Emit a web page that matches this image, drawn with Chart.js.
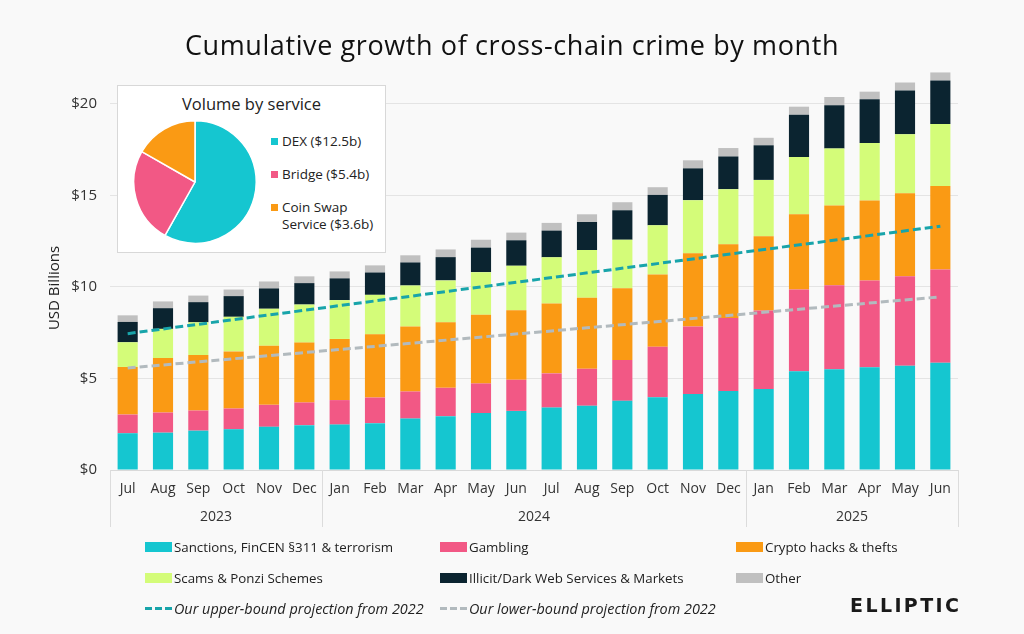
<!DOCTYPE html>
<html>
<head>
<meta charset="utf-8">
<title>Cumulative growth of cross-chain crime by month</title>
<script src="https://cdn.jsdelivr.net/npm/chart.js@4.4.1/dist/chart.umd.min.js"></script>
<style>
    body { margin: 0; background: #f9f9f9; font-family: 'Open Sans', sans-serif; color: #222; }
    #wrap { position: relative; width: 1024px; height: 634px; overflow: hidden; }
    #main { position: absolute; left: 0; top: 0; }
    #title { position: absolute; left: 0; width: 1024px; top: 27px; text-align: center; font-size: 27px;
             letter-spacing: 0.6px; color: #111; line-height: 36px; }
    #pieBox { position: absolute; left: 117px; top: 85px; width: 269px; height: 168px; background: #fff;
              border: 1px solid #d8d8d8; box-sizing: border-box; }
    #pieTitle { position: absolute; left: 0; width: 100%; top: 6px; text-align: center; font-size: 16.5px; color: #222; }
    #pie { position: absolute; left: 15px; top: 34px; }
    #pieLegend { position: absolute; left: 153px; top: 47px; font-size: 13.5px; color: #222; }
    #pieLegend .it { position: relative; padding-left: 11px; line-height: 17px; margin-bottom: 16px; }
    #pieLegend .sq { position: absolute; left: 0; top: 5px; width: 7px; height: 7px; }
    #legend { position: absolute; left: 145px; top: 531px; display: grid;
              grid-template-columns: 295px 296px 220px; grid-auto-rows: 31px; font-size: 13.3px; color: #222; }
    #legend .it { display: flex; align-items: center; white-space: nowrap; }
    #legend .sw { width: 27px; height: 10px; margin-right: 2px; flex: none; }
    #legend .dash { height: 3px; }
    #legend .it.proj { font-style: italic; font-size: 14.4px; }
    #logo { position: absolute; left: 850px; top: 594px; font-family: 'DejaVu Sans', sans-serif; font-weight: bold;
            font-size: 19px; letter-spacing: 2.4px; color: #1a1a1a; }
</style>
</head>
<body>
<div id="wrap">
    <canvas id="main" width="1024" height="634"></canvas>
    <div id="title"></div>
    <div id="pieBox">
        <div id="pieTitle"></div>
        <canvas id="pie" width="124" height="124"></canvas>
        <div id="pieLegend"></div>
    </div>
    <div id="legend"></div>
    <div id="logo">ELLIPTIC</div>
</div>
<script>
const chartTitle = 'Cumulative growth of cross-chain crime by month';
const yTitle = 'USD Billions';

const months = ['Jul', 'Aug', 'Sep', 'Oct', 'Nov', 'Dec',
    'Jan', 'Feb', 'Mar', 'Apr', 'May', 'Jun', 'Jul', 'Aug', 'Sep', 'Oct', 'Nov', 'Dec',
    'Jan', 'Feb', 'Mar', 'Apr', 'May', 'Jun'];
const yearLabels = ['2023', '2024', '2025'];
const yearStart = [0, 6, 18]; // index of first month of each year

const yTicks = [0, 5, 10, 15, 20];

const seriesNames = ['Sanctions, FinCEN §311 & terrorism', 'Gambling', 'Crypto hacks & thefts',
    'Scams & Ponzi Schemes', 'Illicit/Dark Web Services & Markets', 'Other'];

const sanctions = [2.01, 2.04, 2.15, 2.23, 2.36, 2.45, 2.48, 2.56, 2.81, 2.94, 3.11, 3.23,
    3.41, 3.51, 3.78, 3.98, 4.15, 4.31, 4.42, 5.39, 5.50, 5.61, 5.70, 5.86];
const gambling = [1.02, 1.10, 1.10, 1.13, 1.20, 1.24, 1.34, 1.40, 1.48, 1.55, 1.62, 1.70,
    1.87, 2.02, 2.23, 2.76, 3.69, 4.00, 4.29, 4.47, 4.60, 4.75, 4.89, 5.10];
const hacks = [2.60, 2.98, 3.03, 3.12, 3.23, 3.27, 3.34, 3.45, 3.55, 3.58, 3.75, 3.80,
    3.82, 3.88, 3.92, 3.94, 4.00, 4.02, 4.06, 4.11, 4.35, 4.36, 4.53, 4.56];
const scams = [1.35, 1.59, 1.79, 1.89, 2.02, 2.08, 2.12, 2.16, 2.24, 2.29, 2.33, 2.43,
    2.52, 2.61, 2.65, 2.69, 2.90, 3.01, 3.08, 3.13, 3.12, 3.14, 3.22, 3.38];
const darkWeb = [1.11, 1.13, 1.10, 1.13, 1.11, 1.17, 1.19, 1.22, 1.26, 1.27, 1.34, 1.39,
    1.46, 1.53, 1.61, 1.66, 1.74, 1.79, 1.89, 2.31, 2.36, 2.40, 2.39, 2.38];
const other = [0.36, 0.37, 0.36, 0.36, 0.38, 0.37, 0.38, 0.39, 0.39, 0.42, 0.43, 0.42,
    0.42, 0.42, 0.44, 0.42, 0.44, 0.46, 0.41, 0.44, 0.45, 0.41, 0.44, 0.44];

// projections are straight lines: only the two end values are read, the line spans the gap
const projNames = ['Our upper-bound projection from 2022', 'Our lower-bound projection from 2022'];
const upperProj = [7.45, null, null, null, null, null, null, null, null, null, null, null,
    null, null, null, null, null, null, null, null, null, null, null, 13.32];
const lowerProj = [5.57, null, null, null, null, null, null, null, null, null, null, null,
    null, null, null, null, null, null, null, null, null, null, null, 9.46];

const pieTitle = 'Volume by service';
const pieLabels = ['DEX ($12.5b)', 'Bridge ($5.4b)', 'Coin Swap<br>Service ($3.6b)'];
const pieValues = [12.5, 5.4, 3.6];

const barColors = ['#15c6d0', '#f25885', '#fa9a14', '#d4fc79', '#0b2430', '#c0c0c0'];
const projColors = ['#18a4aa', '#b2babe'];
const pieColors = ['#15c6d0', '#f25885', '#fa9a14'];

const FONT = 'Open Sans';

const groupAxis = {
    id: 'groupAxis',
    afterDraw(chart) {
        const { ctx, chartArea: a, scales: { x } } = chart;
        ctx.save();
        const edges = [a.left];
        for (let i = 1; i < yearStart.length; i++) {
            edges.push((x.getPixelForValue(yearStart[i] - 1) + x.getPixelForValue(yearStart[i])) / 2);
        }
        edges.push(a.right);
        ctx.strokeStyle = '#dcdcdc';
        ctx.lineWidth = 1;
        edges.forEach(px => {
            const p = Math.round(px) + 0.5;
            ctx.beginPath();
            ctx.moveTo(p, a.bottom);
            ctx.lineTo(p, a.bottom + 57);
            ctx.stroke();
        });
        ctx.fillStyle = '#333';
        ctx.font = '14px "' + FONT + '"';
        ctx.textAlign = 'center';
        ctx.textBaseline = 'middle';
        yearLabels.forEach((lab, i) => {
            ctx.fillText(lab, (edges[i] + edges[i + 1]) / 2, a.bottom + 47);
        });
        ctx.translate(55, 288);
        ctx.rotate(-Math.PI / 2);
        ctx.fillStyle = '#222';
        ctx.font = '15px "' + FONT + '"';
        ctx.fillText(yTitle, 0, 0);
        ctx.restore();
    }
};

const barData = [sanctions, gambling, hacks, scams, darkWeb, other];
const datasets = barData.map((d, i) => ({
    type: 'bar',
    label: seriesNames[i],
    data: d,
    backgroundColor: barColors[i],
    barPercentage: 0.57,
    categoryPercentage: 1,
    order: 1
}));
[upperProj, lowerProj].forEach((d, i) => {
    datasets.push({
        type: 'line',
        label: projNames[i],
        data: d,
        stack: 'proj' + i,
        spanGaps: true,
        borderColor: projColors[i],
        borderWidth: 3,
        borderDash: [8, 4],
        pointRadius: 0,
        fill: false,
        order: 0
    });
});

document.getElementById('title').textContent = chartTitle;

new Chart(document.getElementById('main'), {
    data: { labels: months, datasets: datasets },
    plugins: [groupAxis],
    options: {
        responsive: false,
        animation: false,
        layout: { padding: { left: 0, right: 66, top: 60, bottom: 0 } },
        plugins: {
            legend: { display: false },
            tooltip: { enabled: false }
        },
        scales: {
            x: {
                stacked: true,
                grid: { display: false, drawTicks: false },
                border: { color: '#d9d9d9' },
                ticks: { color: '#333', font: { family: FONT, size: 14 }, padding: 11, maxRotation: 0, autoSkip: false },
                afterFit(s) { s.height = 164; }
            },
            y: {
                stacked: true,
                min: 0,
                max: 22.4,
                border: { display: false },
                grid: { color: '#e4e4e4', drawTicks: false },
                afterBuildTicks(s) { s.ticks = yTicks.map(v => ({ value: v })); },
                ticks: { padding: 13, color: '#333', font: { family: FONT, size: 15 }, callback: v => '$' + v },
                afterFit(s) { s.width = 110; }
            }
        }
    }
});

// inset pie
document.getElementById('pieTitle').textContent = pieTitle;
new Chart(document.getElementById('pie'), {
    type: 'pie',
    data: {
        labels: pieLabels,
        datasets: [{ data: pieValues, backgroundColor: pieColors, borderColor: '#fff', borderWidth: 1.5 }]
    },
    options: {
        responsive: false,
        animation: false,
        plugins: { legend: { display: false }, tooltip: { enabled: false } }
    }
});
document.getElementById('pieLegend').innerHTML = pieLabels.map((l, i) =>
    '<div class="it"><span class="sq" style="background:' + pieColors[i] + '"></span>' + l + '</div>').join('');

// bottom legend
let html = seriesNames.map((n, i) =>
    '<div class="it"><span class="sw" style="background:' + barColors[i] + '"></span>' + n + '</div>').join('');
html += projNames.map((n, i) =>
    '<div class="it proj"><span class="sw dash" style="background:repeating-linear-gradient(to right,' +
    projColors[i] + ' 0 7px, transparent 7px 10px)"></span>' + n + '</div>').join('');
document.getElementById('legend').innerHTML = html;
</script>
</body>
</html>
